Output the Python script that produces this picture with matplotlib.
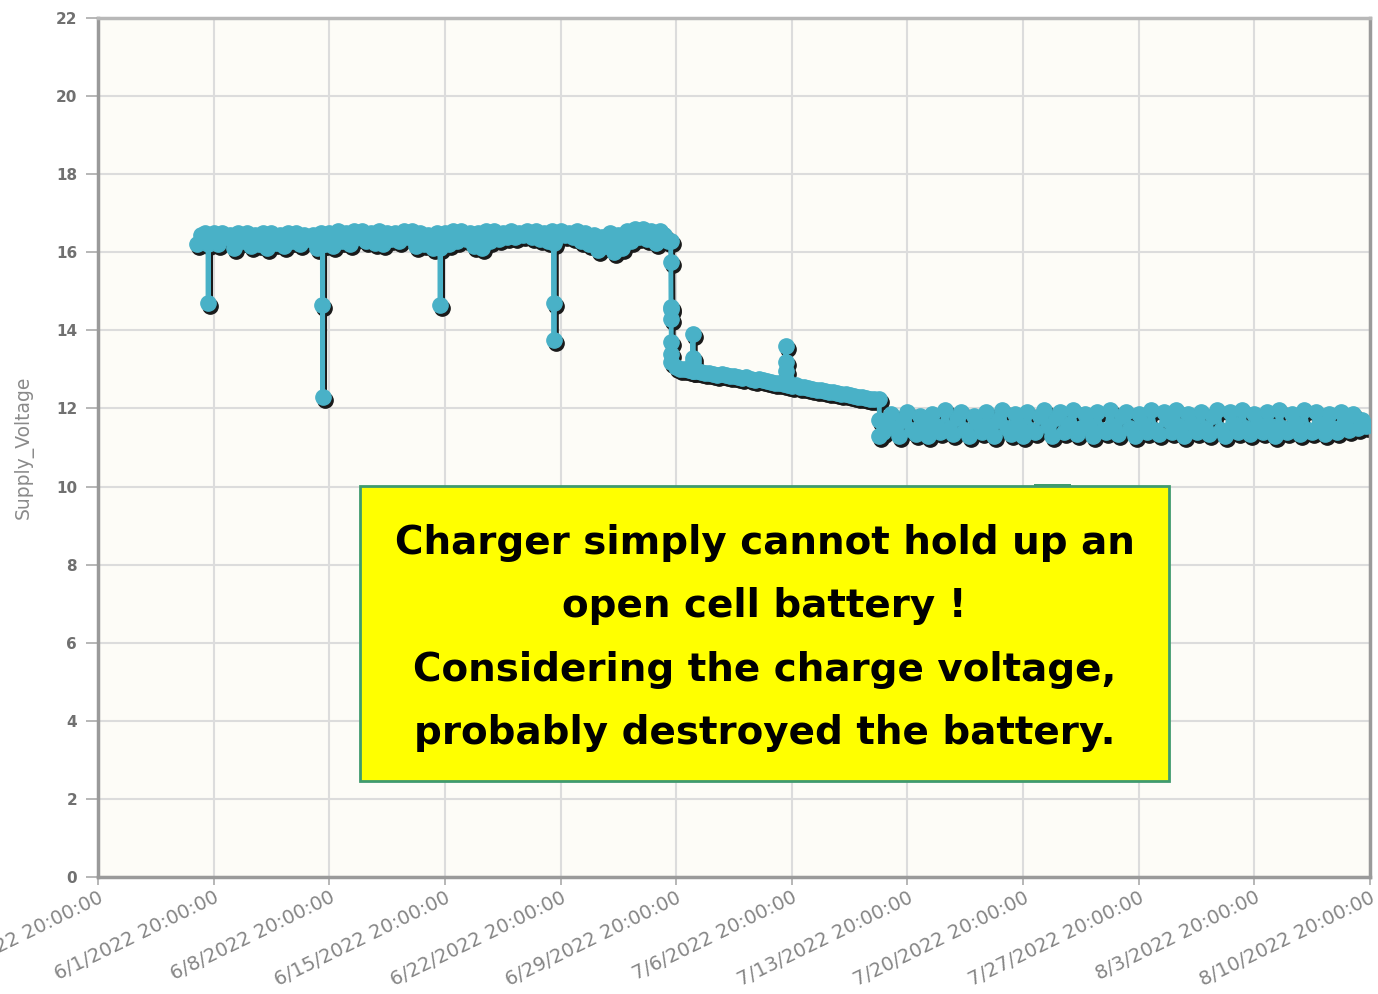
import numpy as np
import pandas as pd
import matplotlib
matplotlib.use("Agg")
import matplotlib.pyplot as plt
import matplotlib.transforms as mtransforms
from matplotlib.patches import Rectangle

seg1_start = "2022-05-31 20:00"
seg1 = [16.2, 16.45, 16.5, 16.35, 16.5, 16.2, 16.5, 16.4,
        16.45, 16.1, 16.5, 16.3, 16.5, 16.15, 16.45, 16.2,
        16.5, 16.1, 16.5, 16.25, 16.45, 16.15, 16.5, 16.3,
        16.5, 16.2, 16.45, 16.35, 16.45, 16.1, 16.5, 16.2,
        16.5, 16.15, 16.55, 16.3, 16.5, 16.2, 16.55, 16.4,
        16.55, 16.3, 16.5, 16.25, 16.55, 16.2, 16.5, 16.35,
        16.5, 16.3, 16.55, 16.4, 16.55, 16.15, 16.5, 16.2,
        16.45, 16.1, 16.5, 16.25, 16.5, 16.2, 16.55, 16.3,
        16.55, 16.35, 16.5, 16.15, 16.5, 16.1, 16.55, 16.3,
        16.55, 16.35, 16.5, 16.4, 16.55, 16.4, 16.5, 16.45,
        16.55, 16.4, 16.55, 16.35, 16.5, 16.3, 16.55, 16.4,
        16.55, 16.45, 16.5, 16.4, 16.55, 16.3, 16.5, 16.2,
        16.45, 16.05, 16.4, 16.15, 16.5, 16.0, 16.45, 16.1,
        16.55, 16.3, 16.6, 16.4, 16.6, 16.35, 16.55, 16.25,
        16.55, 16.45, 16.3]

seg2_start = "2022-06-29 20:00"
seg2 = [13.05, 13.0, 13.02, 12.98, 12.95, 12.97, 12.93, 12.9, 12.92, 12.88,
        12.86, 12.88, 12.85, 12.82, 12.84, 12.8, 12.78, 12.8, 12.76, 12.74,
        12.76, 12.72, 12.7, 12.68, 12.66, 12.64, 12.62, 12.6, 12.58, 12.6,
        12.56, 12.54, 12.52, 12.5, 12.48, 12.47, 12.45, 12.43, 12.42, 12.4,
        12.38, 12.36, 12.35, 12.33, 12.3, 12.29, 12.27, 12.25, 12.23]

seg3_start = "2022-07-12 08:00"
seg3 = [11.4, 11.6, 11.85, 11.5, 11.3, 11.7, 11.9, 11.45, 11.35, 11.8,
        11.6, 11.3, 11.85, 11.55, 11.4, 11.95, 11.5, 11.35, 11.75, 11.9,
        11.45, 11.3, 11.8, 11.6, 11.4, 11.9, 11.55, 11.3, 11.7, 11.95,
        11.5, 11.35, 11.85, 11.6, 11.3, 11.9, 11.45, 11.4, 11.8, 11.95,
        11.55, 11.3, 11.75, 11.9, 11.4, 11.6, 11.95, 11.35, 11.5, 11.85,
        11.6, 11.3, 11.9, 11.45, 11.4, 11.95, 11.55, 11.35, 11.8, 11.9,
        11.5, 11.3, 11.85, 11.6, 11.4, 11.95, 11.45, 11.35, 11.9, 11.7,
        11.4, 11.95, 11.55, 11.3, 11.85, 11.6, 11.4, 11.9, 11.5, 11.35,
        11.8, 11.95, 11.45, 11.3, 11.9, 11.6, 11.4, 11.95, 11.5, 11.35,
        11.85, 11.6, 11.4, 11.9, 11.55, 11.3, 11.95, 11.5, 11.4, 11.85,
        11.6, 11.35, 11.95, 11.45, 11.4, 11.9, 11.6, 11.35, 11.85, 11.5,
        11.4, 11.9, 11.6, 11.45, 11.85, 11.5, 11.7, 11.55]

# short dips / spikes (readings a few minutes apart)
event_times = ["2022-06-01 12:00", "2022-06-08 10:00", "2022-06-15 13:00",
               "2022-06-22 10:00", "2022-06-29 12:00", "2022-06-30 20:00",
               "2022-07-06 11:00", "2022-07-12 03:00"]
event_values = [[16.2, 14.7, 16.3],
                [16.2, 14.65, 12.3, 16.2],
                [16.1, 14.65, 16.2],
                [16.3, 16.25, 14.7, 13.75, 16.3],
                [16.3, 15.75, 14.6, 14.55, 14.3, 13.7, 13.4, 13.2],
                [13.0, 13.3, 13.9, 13.2, 12.95],
                [12.7, 12.95, 13.2, 13.6, 12.75],
                [12.25, 11.7, 11.3]]

x_start = "2022-05-25 20:00"
x_end = "2022-08-10 20:00"
y_ticks = [0, 2, 4, 6, 8, 10, 12, 14, 16, 18, 20, 22]
note_lines = ["Charger simply cannot hold up an",
              "open cell battery !",
              "Considering the charge voltage,",
              "probably destroyed the battery."]

times, vals = [], []
for start, seg in [(seg1_start, seg1), (seg2_start, seg2), (seg3_start, seg3)]:
    times += list(pd.date_range(start, periods=len(seg), freq="6h"))
    vals += seg
for t, ev in zip(event_times, event_values):
    times += list(pd.date_range(t, periods=len(ev), freq="10min"))
    vals += ev
s = pd.Series(vals, index=pd.DatetimeIndex(times)).sort_index()

fig = plt.figure(figsize=(13.78, 9.94), dpi=100)
ax = fig.add_axes([0.0711, 0.1177, 0.9231, 0.8642])
ax.set_facecolor("#fdfcf7")

teal = "#49b1c7"
shadow = mtransforms.offset_copy(ax.transData, fig=fig, x=2, y=-3, units="dots")
ax.plot(s.index, s.values, color="#1a1a1a", lw=3.5, marker="o", ms=11,
        transform=shadow, zorder=2)
ax.plot(s.index, s.values, color=teal, lw=3.5, marker="o", ms=11, zorder=3)

ax.set_xlim(pd.Timestamp(x_start), pd.Timestamp(x_end))
ax.set_ylim(0, 22)
xt = pd.date_range(x_start, x_end, freq="7D")
ax.set_xticks(xt)
ax.set_xticklabels([f"{d.month}/{d.day}/{d.year} 20:00:00" for d in xt],
                   rotation=26, ha="right", rotation_mode="anchor",
                   fontsize=14, color="#858585", family=["DejaVu Sans"])
ax.set_yticks(y_ticks)
ax.set_yticklabels([str(v) for v in y_ticks], fontsize=11, fontweight="bold",
                   color="#707070")
ax.tick_params(axis="y", length=9, width=1.2, color="#aaaaaa", pad=6)
ax.tick_params(axis="x", length=6, width=1.2, color="#aaaaaa", pad=2)
ax.grid(True, color="#dcdcdc", lw=1.5)
ax.set_axisbelow(True)
for side in ["left", "bottom", "top", "right"]:
    ax.spines[side].set_color("#9a9a9a")
    ax.spines[side].set_linewidth(2.5)
ax.spines["top"].set_color("#b8b8b8")
ax.set_ylabel("Supply_Voltage", fontsize=13.5, color="#8a8a8a",
              family=["Liberation Sans Narrow", "DejaVu Sans"], labelpad=16)

# note box
fig.add_artist(Rectangle((0.2612, 0.2143), 0.5871, 0.2968, transform=fig.transFigure,
                         facecolor="#ffff00", edgecolor="#3f9a6e", lw=2, zorder=5))
fig.add_artist(Rectangle((0.750, 0.5100), 0.0275, 0.0035, transform=fig.transFigure,
                         facecolor="#3f9a6e", edgecolor="none", zorder=6))
fig.text(0.555, 0.358, "\n".join(note_lines), ha="center", va="center",
         fontsize=28, fontweight="bold", color="black", linespacing=1.85,
         family=["DejaVu Sans"], zorder=7)

fig.savefig("out.png", dpi=100, facecolor="white")
